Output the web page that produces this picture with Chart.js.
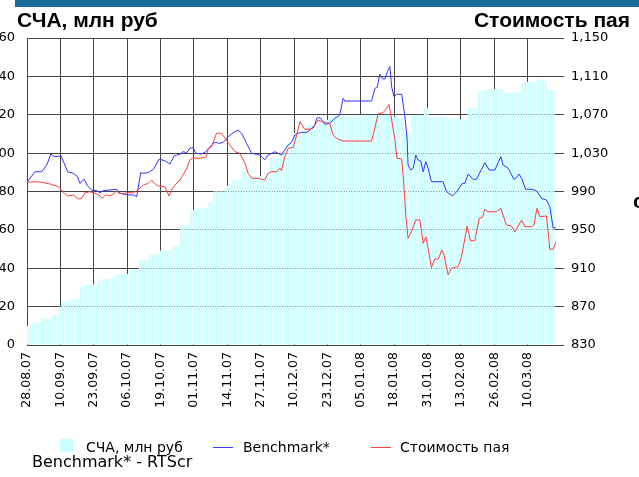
<!DOCTYPE html>
<html><head><meta charset="utf-8">
<script src="https://cdn.jsdelivr.net/npm/chart.js@4/dist/chart.umd.min.js"></script>
<style>
html,body{margin:0;padding:0;background:#fff;}
#wrap{position:relative;width:639px;height:477px;overflow:hidden;background:#fff;}
canvas{position:absolute;left:0;top:0;}
.t{position:absolute;white-space:nowrap;color:#000;}
.title{font:bold 21px "Liberation Sans",Arial,sans-serif;line-height:21px;}
.leg{font:14px "DejaVu Sans",sans-serif;line-height:14px;}
</style></head>
<body><div id="wrap">
<div style="position:absolute;left:15px;top:0;width:624px;height:7px;background:#156c98"></div>
<canvas id="c" width="639" height="477"></canvas>
<div class="t title" style="left:17px;top:9px">СЧА, млн руб</div>
<div class="t title" style="right:9px;top:9px">Стоимость пая</div>
<div class="t title" style="left:633px;top:190px">с</div>
<div style="position:absolute;left:60px;top:439px;width:13px;height:13px;background:#ccffff"></div>
<div class="t leg" style="left:86px;top:440px">СЧА, млн руб</div>
<div style="position:absolute;left:213px;top:447px;width:20px;height:1px;background:#3a3aff"></div>
<div class="t leg" style="left:243px;top:440px">Benchmark*</div>
<div style="position:absolute;left:371px;top:447px;width:20px;height:1px;background:#ff4040"></div>
<div class="t leg" style="left:400px;top:440px">Стоимость пая</div>
<div class="t" style="left:32px;top:454px;font:16px 'DejaVu Sans',sans-serif;line-height:16px">Benchmark* - RTScr</div>
</div>
<script>
// x axis tick labels, every 13 days starting 28.08.07
const tickLabels = ['28.08.07','10.09.07','23.09.07','06.10.07','19.10.07','01.11.07','14.11.07','27.11.07','10.12.07','23.12.07','05.01.08','18.01.08','31.01.08','13.02.08','26.02.08','10.03.08'];

// СЧА, млн руб — one value per calendar day from 28.08.07
const navAssets = [
 9.9, 9.9, 11.6, 11.6, 11.6, 11.6, 13.9, 13.9, 13.9, 13.9,
 15.6, 15.6, 15.6, 20.0, 22.6, 22.6, 22.6, 23.8, 23.8, 23.8,
 23.8, 30.4, 30.4, 31.6, 31.6, 31.6, 31.6, 31.6, 33.5, 33.5,
 34.4, 34.4, 34.4, 34.4, 36.0, 37.0, 37.0, 37.0, 37.0, 37.0,
 39.4, 39.4, 39.4, 39.4, 44.3, 44.3, 44.3, 44.3, 47.2, 47.2,
 47.2, 47.2, 49.2, 49.2, 49.2, 49.2, 49.2, 51.2, 51.2, 51.2,
 62.5, 62.5, 62.5, 62.5, 70.4, 70.4, 71.6, 71.6, 71.6, 71.6,
 71.6, 74.5, 74.5, 80.1, 80.1, 80.1, 80.1, 80.1, 83.0, 83.0,
 86.0, 86.0, 86.0, 86.0, 90.7, 90.7, 88.0, 88.0, 88.0, 88.0,
 88.0, 88.0, 88.0, 88.0, 88.0, 97.3, 97.3, 97.3, 97.3, 99.9,
 99.9, 105.0, 105.0, 105.0, 110.5, 110.5, 110.5, 110.5, 110.5, 114.5,
 114.5, 114.5, 114.5, 114.5, 117.3, 117.3, 117.3, 117.3, 119.0, 119.0,
 119.0, 119.0, 119.3, 119.3, 119.3, 119.3, 119.3, 119.3, 119.3, 119.3,
 119.9, 119.9, 119.9, 119.9, 119.9, 119.9, 119.9, 119.9, 119.9, 119.9,
 119.9, 119.9, 119.9, 118.7, 118.7, 118.7, 118.7, 110.3, 110.3, 110.3,
 119.9, 119.9, 119.9, 119.9, 119.9, 123.4, 123.4, 118.7, 118.7, 118.7,
 118.7, 118.7, 118.7, 118.1, 118.1, 118.1, 118.1, 118.1, 118.1, 117.5,
 117.5, 117.5, 123.4, 123.4, 123.4, 123.4, 132.5, 132.5, 132.5, 133.4,
 133.4, 133.4, 133.4, 133.4, 133.4, 133.4, 131.5, 131.5, 131.5, 131.5,
 131.5, 131.5, 131.5, 137.2, 137.2, 137.2, 137.2, 137.2, 137.2, 138.5,
 138.5, 138.5, 137.0, 132.9, 132.9, 132.9
];

// Benchmark* (right axis): day offset from 28.08.07 and value
const benchDays = [0,3.1,5.7,7.7,9.3,10.6,13.2,14.5,15.8,18.0,19.7,20.6,22.3,23.6,25.2,27.1,28.4,29.7,32.3,34.9,35.8,37.5,39.4,41.4,42.7,44.3,45.3,47.2,49.2,51.4,53.7,55.7,57.3,58.3,59.6,60.8,62.2,63.4,64.7,65.8,68.0,69.7,71.9,73.2,75.1,76.4,78.4,80.3,82.2,83.6,85.5,87.5,89.4,90.7,92.6,93.9,95.3,96.5,97.8,99.1,100.4,101.7,103.0,104.3,105.6,106.9,108.9,110.2,112.1,112.8,114.1,116.0,117.9,119.9,121.8,123.1,123.8,134.2,135.5,136.4,137.4,138.5,139.4,140.3,141.3,142.0,142.9,143.9,145.9,147.1,148.0,148.4,149.4,150.4,151.4,152.3,153.3,154.3,155.3,156.2,157.5,162.0,163.4,165.7,167.3,169.6,170.5,171.8,173.7,175.0,177.0,178.3,180.0,182.2,184.5,185.4,187.4,189.6,190.3,191.6,192.6,194.2,196.5,198.4,200.4,202.3,203.6,204.9,205.9];
const benchValues = [999.6,1010.6,1010.6,1017.6,1029.1,1026.3,1027.0,1019.4,1010.6,1009.0,1005.4,998.5,1002.7,995.7,991.6,990.9,988.7,990.9,991.6,992.3,988.7,987.4,986.4,986.4,984.6,1009.6,1009.0,1009.6,1013.1,1023.6,1022.1,1018.7,1027.0,1028.0,1028.8,1031.5,1030.4,1035.0,1035.6,1029.8,1029.1,1031.5,1038.5,1041.3,1040.2,1041.3,1047.1,1051.3,1054.1,1050.7,1040.2,1029.8,1028.8,1028.0,1023.0,1028.0,1029.8,1031.5,1029.8,1028.0,1033.3,1038.5,1041.3,1048.9,1050.7,1051.7,1051.7,1054.1,1059.3,1066.3,1067.1,1060.0,1061.1,1066.3,1069.7,1087.1,1084.3,1084.3,1097.6,1098.6,1112.2,1107.3,1107.3,1114.9,1120.3,1099.2,1088.8,1091.3,1091.3,1069.7,1045.4,1017.6,1012.4,1014.2,1028.0,1022.8,1021.8,1010.6,1021.1,1014.2,1000.2,1000.2,989.8,985.3,989.8,998.5,998.5,1008.2,1002.7,1002.7,1013.1,1020.0,1012.4,1012.4,1026.3,1017.6,1014.2,1002.7,1003.8,1008.2,1003.8,992.3,992.3,990.8,982.9,981.1,974.2,951.6,952.7];

// Стоимость пая (right axis)
const priceDays = [0,3.1,5.7,9.0,12.2,13.2,14.5,15.8,18.0,20.0,21.3,22.6,24.5,26.5,28.0,29.3,30.6,32.3,33.2,34.9,35.8,37.5,38.8,41.4,43.3,45.3,47.2,48.5,49.6,51.1,53.7,55.3,56.3,57.6,59.6,62.3,63.4,64.6,67.3,69.9,70.6,71.9,73.8,75.8,77.1,79.0,81.0,82.9,84.9,86.1,87.5,90.0,92.6,93.9,95.3,97.2,98.5,99.1,100.4,101.7,103.7,105.0,106.3,108.2,109.5,111.4,113.4,114.7,116.7,117.9,119.2,120.6,123.1,134.2,135.5,136.7,138.7,140.0,141.0,142.0,143.2,144.1,145.9,146.7,147.5,148.4,149.7,151.4,153.0,154.3,155.3,156.2,157.5,158.8,160.2,161.5,162.3,164.0,165.3,167.9,169.2,171.4,172.7,174.4,176.1,177.4,178.3,179.6,182.8,184.5,186.7,188.7,190.0,192.6,193.9,196.5,197.4,198.6,199.7,202.3,203.6,204.9,206.0];
const priceValues = [999.6,1000.2,999.6,997.8,995.0,992.3,988.1,985.3,986.4,982.2,982.9,988.7,989.8,988.1,986.4,982.9,986.4,985.6,986.4,990.5,988.1,987.4,988.7,988.7,991.6,996.8,998.5,1002.0,998.5,995.7,995.0,985.3,991.6,996.8,1002.0,1014.5,1022.8,1024.9,1024.6,1026.3,1035.0,1036.7,1050.7,1050.7,1045.4,1038.5,1031.5,1029.8,1019.4,1009.0,1003.8,1003.8,1002.0,1009.0,1010.6,1010.6,1014.2,1011.7,1026.3,1035.0,1036.1,1048.9,1062.8,1054.8,1054.8,1055.9,1064.5,1062.8,1061.7,1061.1,1048.9,1045.4,1042.6,1042.6,1056.5,1070.8,1072.3,1076.7,1080.7,1064.5,1045.4,1024.6,1023.9,1000.2,965.5,941.2,948.1,960.3,960.3,936.0,942.9,930.8,910.6,919.6,919.6,929.0,924.8,903.0,910.0,911.6,922.0,954.0,938.7,938.7,962.1,963.1,971.4,968.9,968.9,972.5,955.1,954.0,948.1,960.3,953.3,953.3,955.1,972.5,963.7,964.5,929.8,929.8,937.7];

const barData = navAssets.map((v, i) => ({x: i, y: v}));
const benchData = benchDays.map((d, i) => ({x: d, y: benchValues[i]}));
const priceData = priceDays.map((d, i) => ({x: d, y: priceValues[i]}));

const gridColor = '#454545';
new Chart(document.getElementById('c'), {
  type: 'line',
  data: {
    datasets: [
      {type: 'line', label: 'Стоимость пая', data: priceData, yAxisID: 'y1', borderColor: 'rgb(255,60,60)', borderWidth: 1, pointRadius: 0, tension: 0, order: 0},
      {type: 'line', label: 'Benchmark*', data: benchData, yAxisID: 'y1', borderColor: 'rgb(50,50,255)', borderWidth: 1, pointRadius: 0, tension: 0, order: 1},
      {type: 'bar', label: 'СЧА, млн руб', data: barData, yAxisID: 'y', backgroundColor: '#ccffff', borderWidth: 0, barPercentage: 1, categoryPercentage: 0.8, order: 2}
    ]
  },
  options: {
    responsive: false, animation: false, devicePixelRatio: 1,
    layout: {padding: {top: 38, left: 0, right: 0, bottom: 0}},
    plugins: {legend: {display: false}, title: {display: false}, tooltip: {enabled: false}},
    scales: {
      x: {
        type: 'linear', position: 'bottom', min: 0, max: 206, offset: false,
        grid: {color: gridColor, lineWidth: 1, drawTicks: false, offset: false},
        border: {display: false},
        ticks: {stepSize: 13, includeBounds: false, autoSkip: false, maxRotation: 90, minRotation: 90, padding: 7,
          color: '#000', font: {family: 'DejaVu Sans', size: 12.5},
          callback: (v) => (v % 13 === 0 ? tickLabels[v / 13] : '')},
        afterFit: (s) => { s.height = 132; }
      },
      y: {
        position: 'left', min: 0, max: 160,
        grid: {color: gridColor, lineWidth: 1, drawTicks: false},
        border: {display: false},
        ticks: {stepSize: 20, padding: 12, color: '#000', font: {family: 'DejaVu Sans', size: 13}},
        afterFit: (s) => { s.width = 27; }
      },
      y1: {
        position: 'right', min: 830, max: 1150,
        grid: {drawOnChartArea: false, drawTicks: true, tickLength: 8, color: gridColor, tickColor: gridColor},
        border: {display: false},
        ticks: {stepSize: 40, padding: 7, color: '#000', font: {family: 'DejaVu Sans', size: 13},
          callback: (v) => v.toLocaleString('en-US')},
        afterFit: (s) => { s.width = 83; }
      }
    }
  }
});
</script>
</body></html>
